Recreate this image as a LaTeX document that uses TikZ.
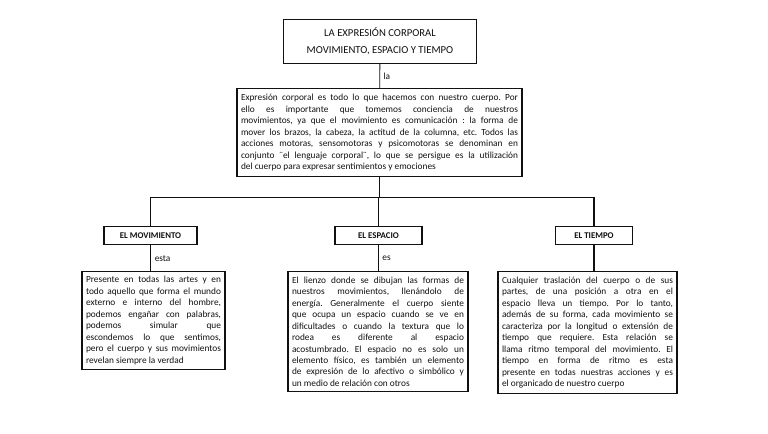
\documentclass[tikz,border=0pt]{standalone}
\usepackage{fontspec}
\setmainfont{Carlito}
\frenchspacing
\usetikzlibrary{positioning}
\definecolor{cInk}{HTML}{111111}
\tikzset{
  every picture/.style={line width=0.6pt},
  box/.style={draw=cInk, line width=0.9pt, inner sep=0pt, text=cInk, align=center, fill=white},
  titlebox/.style={box, font=\fontsize{8}{12.75}\selectfont},
  headbox/.style={box, minimum height=13.5pt, font=\fontsize{6.6}{8}\selectfont\bfseries},
  txtbox/.style={box, align=justify, inner xsep=3pt, font=\fontsize{7}{8.6}\selectfont},
  link/.style={draw=cInk, line width=0.6pt},
  tlink/.style={draw=cInk, line width=1.4pt},
  ann/.style={font=\fontsize{7}{8}\selectfont, text=cInk, inner sep=1.5pt},
}

\begin{document}
\begin{tikzpicture}[x=0.75pt,y=-0.75pt]
\useasboundingbox[fill=white] (0,0) rectangle (768,433);

% ================================================== title and definition
\node[titlebox, anchor=north, minimum width=144.75pt, minimum height=33pt] (title) at (380,19)
      {LA EXPRESIÓN CORPORAL\\MOVIMIENTO, ESPACIO Y TIEMPO};
\node[txtbox, anchor=north, text width=207.75pt, minimum height=66pt] (defn) at (379.5,88)
      {Expresión corporal es todo lo que hacemos con nuestro cuerpo. Por\linebreak
       ello es importante que tomemos conciencia de nuestros\linebreak
       movimientos, ya que el movimiento es comunicación : la forma de\linebreak
       mover los brazos, la cabeza, la actitud de la columna, etc. Todos las\linebreak
       acciones motoras, sensomotoras y psicomotoras se denominan en\linebreak
       conjunto ¨el lenguaje corporal¨, lo que se persigue es la utilización\linebreak
       del cuerpo para expresar sentimientos y emociones};
\draw[link] (title) -- node[ann, right, xshift=1pt] {la} (defn);

% ================================================== the three headings
\node[headbox, anchor=north, minimum width=69.75pt] (mov) at (150.5,226) {EL MOVIMIENTO};
\node[headbox, anchor=north, minimum width=65.25pt] (esp) at (378.5,226) {EL ESPACIO};
\node[headbox, anchor=north, minimum width=57.75pt] (tie) at (594,226)   {EL TIEMPO};

\coordinate (split) at (379.5,197);
\draw[link] (defn) -- (split);
\draw[link] (mov.north |- split) -- (tie.north |- split);
\draw[tlink] (mov.north |- split) -- (mov.north);
\draw[tlink] (tie.north |- split) -- (tie.north);
\draw[link] (esp.north |- split) -- (esp.north);

% ================================================== descriptions
\node[txtbox, anchor=north, text width=101.25pt, minimum height=73.5pt] (movtxt) at (153.5,271)
      {Presente en todas las artes y en\linebreak
       todo aquello que forma el mundo\linebreak
       externo e interno del hombre,\linebreak
       podemos engañar con palabras,\linebreak
       podemos simular que\linebreak
       escondemos lo que sentimos,\linebreak
       pero el cuerpo y sus movimientos\linebreak
       revelan siempre la verdad};
\node[txtbox, anchor=north, text width=129pt, minimum height=90pt] (esptxt) at (378,271)
      {El lienzo donde se dibujan las formas de\linebreak
       nuestros movimientos, llenándolo de\linebreak
       energía. Generalmente el cuerpo siente\linebreak
       que ocupa un espacio cuando se ve en\linebreak
       dificultades o cuando la textura que lo\linebreak
       rodea es diferente al espacio\linebreak
       acostumbrado. El espacio no es solo un\linebreak
       elemento físico, es también un elemento\linebreak
       de expresión de lo afectivo o simbólico y\linebreak
       un medio de relación con otros};
\node[txtbox, anchor=north, text width=128.25pt, minimum height=91.5pt] (tietxt) at (587.5,271)
      {Cualquier traslación del cuerpo o de sus\linebreak
       partes, de una posición a otra en el\linebreak
       espacio lleva un tiempo. Por lo tanto,\linebreak
       además de su forma, cada movimiento se\linebreak
       caracteriza por la longitud o extensión de\linebreak
       tiempo que requiere. Esta relación se\linebreak
       llama ritmo temporal del movimiento. El\linebreak
       tiempo en forma de ritmo es esta\linebreak
       presente en todas nuestras acciones y es\linebreak
       el organicado de nuestro cuerpo};

\draw[tlink] (mov) -- node[ann, right, xshift=1pt] {esta} (mov.south |- movtxt.north);
\draw[link, line width=0.9pt] (esp) -- node[ann, right, xshift=1pt] {es} (esp.south |- esptxt.north);
\draw[tlink] (tie) -- (tie.south |- tietxt.north);

\end{tikzpicture}
\end{document}
